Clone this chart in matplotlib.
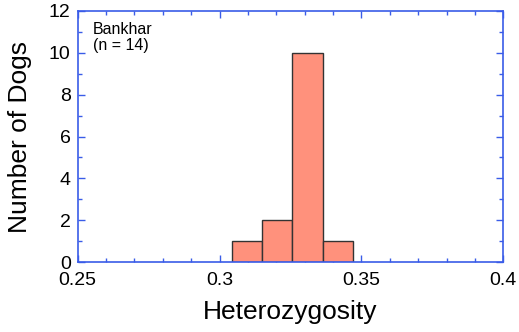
import numpy as np
import matplotlib
matplotlib.use("Agg")
import matplotlib.pyplot as plt
from matplotlib.ticker import MultipleLocator

# Histogram of heterozygosity per dog
bin_edges = [0.3044, 0.3150, 0.3257, 0.3363, 0.3470]
counts = [1, 2, 10, 1]
group_name = "Bankhar"
n_dogs = 14

plt.rcParams['font.family'] = ['Liberation Sans', 'DejaVu Sans']

axis_blue = "#3a5ce8"

fig = plt.figure(figsize=(5.19, 3.32), dpi=100)
ax = fig.add_axes([0.1497, 0.2099, 0.9698 - 0.1497, 0.9678 - 0.2099])

edges = np.array(bin_edges)
ax.bar(edges[:-1], counts, width=np.diff(edges), align='edge',
       color="#ff917c", edgecolor="#333333", linewidth=1.0, zorder=2)

ax.set_xlim(0.25, 0.4)
ax.set_ylim(0, 12)
ax.xaxis.set_major_locator(MultipleLocator(0.05))
ax.xaxis.set_minor_locator(MultipleLocator(0.01))
ax.yaxis.set_major_locator(MultipleLocator(2))
ax.yaxis.set_minor_locator(MultipleLocator(1))
ax.set_xticks([0.25, 0.3, 0.35, 0.4])
ax.set_xticklabels(["0.25", "0.3", "0.35", "0.4"])

for side in ax.spines.values():
    side.set_color(axis_blue)
    side.set_linewidth(1.2)

ax.tick_params(which='both', direction='in', top=True, right=True,
               color=axis_blue, labelsize=14, labelcolor='black')
ax.tick_params(which='major', length=5, width=1.0, pad=5)
ax.tick_params(axis='x', which='major', pad=7)
ax.tick_params(which='minor', length=3, width=1.0)

ax.set_xlabel("Heterozygosity", fontsize=19, labelpad=8)
ax.set_ylabel("Number of Dogs", fontsize=19, labelpad=12)

ax.text(0.036, 0.955, f"{group_name}\n(n = {n_dogs})", transform=ax.transAxes,
        ha='left', va='top', fontsize=11.5, linespacing=1.05)

fig.savefig("out.png", dpi=100)
